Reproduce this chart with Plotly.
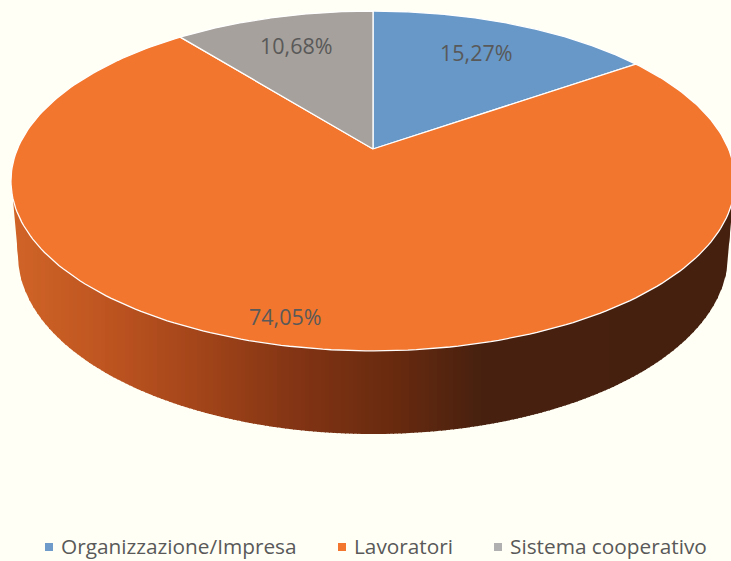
import numpy as np
import plotly.graph_objects as go

# ---- data ----
categories = ["Organizzazione/Impresa", "Lavoratori", "Sistema cooperativo"]
values = [15.27, 74.05, 10.68]
value_labels = ["15,27%", "74,05%", "10,68%"]

# ---- style ----
slice_colors = ["#6798C8", "#F2762E", "#A6A19C"]
legend_colors = ["#6F9BCB", "#F2762E", "#B0B0B0"]
BG = "#FFFFF5"
TXT = "#595959"
FONT = "'Open Sans', Lato, sans-serif"
W, H = 731, 561

# ---- perspective projection of the pie disc ----
CX, CY_APEX, K, BY, CR = 373.0, 149.0, 0.188, -135.9, 355.6


def project(X, Y):
    d = 1 + K * Y
    return CX + CR * X / d, (CY_APEX + BY * Y) / d


def arc(a0, a1, n=240):
    t = np.radians(np.linspace(a0, a1, n))
    return project(np.sin(t), np.cos(t))


# side wall ellipses (screen geometry of the extruded rim)
TOP_RX, TOP_CY, TOP_RY = 362.0, 181.0, 170.0
LOW_RX, LOW_CY, LOW_RY = 355.0, 255.0, 179.0
WALL_L, WALL_R, WALL_Y = 13.0, 733.0, 200.0


def wall_top(x):
    u = np.clip((x - CX) / TOP_RX, -1, 1)
    return TOP_CY + TOP_RY * np.sqrt(1 - u * u)


def wall_bottom(x):
    u = np.clip((x - CX) / LOW_RX, -1, 1)
    y = LOW_CY + LOW_RY * np.sqrt(1 - u * u)
    left_edge, right_edge = CX - LOW_RX, CX + LOW_RX
    if x < left_edge:
        return WALL_Y + (LOW_CY - WALL_Y) * (x - WALL_L) / (left_edge - WALL_L)
    if x > right_edge:
        return WALL_Y + (LOW_CY - WALL_Y) * (WALL_R - x) / (WALL_R - right_edge)
    return y


grad_x = [13, 100, 200, 300, 400, 480, 735]
grad_r = [209, 192, 163, 130, 103, 72, 70]
grad_g = [101, 86, 69, 52, 42, 33, 32]
grad_b = [40, 33, 26, 20, 15, 15, 15]

fig = go.Figure()

# side wall: thin vertical strips carrying the horizontal shading
edges = np.arange(WALL_L, WALL_R + 4, 4.0)
for x0, x1 in zip(edges[:-1], edges[1:]):
    x1b = min(x1 + 1, WALL_R)
    xs = np.linspace(x0, x1b, 4)
    tops = [wall_top(v) - 2 for v in xs]
    bots = [wall_bottom(v) for v in xs]
    xm = (x0 + x1) / 2
    col = "rgb(%d,%d,%d)" % (
        np.interp(xm, grad_x, grad_r),
        np.interp(xm, grad_x, grad_g),
        np.interp(xm, grad_x, grad_b),
    )
    fig.add_trace(go.Scatter(
        x=list(xs) + list(xs[::-1]), y=tops + bots[::-1],
        mode="lines", fill="toself", fillcolor=col,
        line=dict(width=0, color=col), showlegend=False, hoverinfo="skip",
    ))

# top face: one wedge per category, starting at 12 o'clock, clockwise
total = sum(values)
start = 0.0
for name, v, c in zip(categories, values, slice_colors):
    end = start + 360.0 * v / total
    ax, ay = arc(start, end)
    fig.add_trace(go.Scatter(
        x=[CX] + list(ax) + [CX], y=[CY_APEX] + list(ay) + [CY_APEX],
        mode="lines", fill="toself", fillcolor=c,
        line=dict(color="#FFFFFF", width=1.3), name=name, showlegend=False,
        hovertemplate=name + ": %{text}<extra></extra>",
        text=[f"{v}"] * (len(ax) + 2),
    ))
    start = end

# value labels
label_pos = [(476.5, 52), (285.5, 316), (296.5, 45)]
for (lx, ly), t in zip(label_pos, value_labels):
    fig.add_annotation(x=lx, y=ly, text=t, showarrow=False, xanchor="center", yanchor="middle",
                       font=dict(family=FONT, size=21.5, color=TXT))

# legend row
legend_marker_x = [49, 342, 498]
legend_text_x = [59, 352, 508]
legend_y = 546
fig.add_trace(go.Scatter(
    x=legend_marker_x, y=[legend_y + 1] * 3, mode="markers",
    marker=dict(symbol="square", size=8, color=legend_colors),
    showlegend=False, hoverinfo="skip",
))
for tx, name in zip(legend_text_x, categories):
    fig.add_annotation(x=tx, y=legend_y, text=name, showarrow=False, xanchor="left", yanchor="middle",
                       font=dict(family=FONT, size=20.8, color=TXT))

fig.update_layout(
    width=W, height=H, margin=dict(l=0, r=0, t=0, b=0),
    paper_bgcolor=BG, plot_bgcolor=BG, showlegend=False,
    xaxis=dict(range=[0, W], visible=False, fixedrange=True),
    yaxis=dict(range=[H, 0], visible=False, fixedrange=True),
)
fig.write_html("out.html", config={"displayModeBar": False},
               post_script="document.body.style.margin='0';document.body.style.background='#FFFFF5';")
